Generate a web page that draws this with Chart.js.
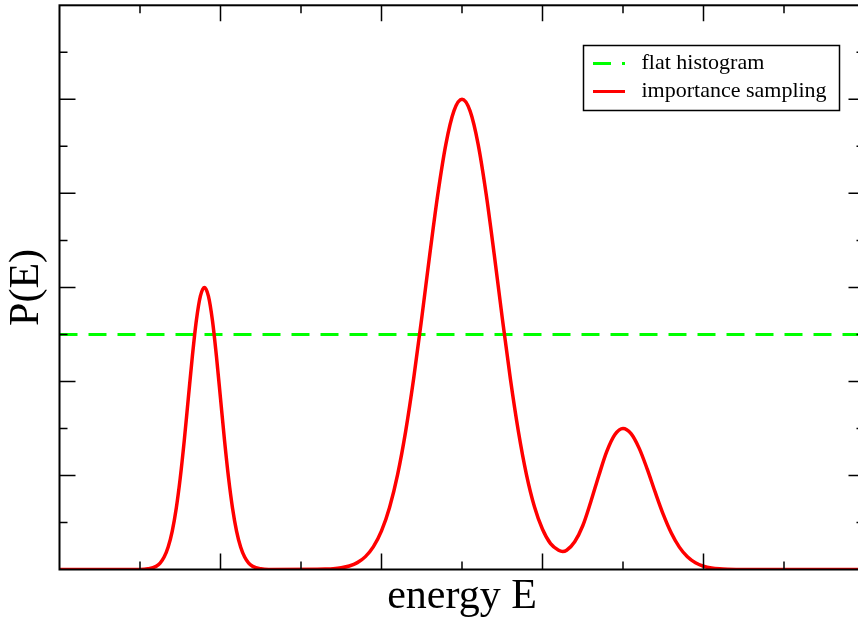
<!DOCTYPE html>
<html lang="en">
<head>
    <meta charset="UTF-8">
    <title>P(E): flat histogram vs importance sampling</title>
    <script src="https://cdn.jsdelivr.net/npm/chart.js"></script>
    <style>
        html, body { margin: 0; padding: 0; background: #fff; overflow: hidden; }
        .container { width: 870px; height: 624px; }
    </style>
</head>
<body>
    <div class="container">
        <canvas id="pChart" width="870" height="624"></canvas>
    </div>

    <script>
        // Energy grid of the importance sampling curve (x axis, 0..10)
        const energy = [
            0, 1.0, 1.1, 1.2, 1.25, 1.3, 1.35, 1.4, 1.45, 1.5, 1.55, 1.6, 1.65, 1.7, 1.75,
            1.8, 1.85, 1.9, 1.95, 2.0, 2.05, 2.1, 2.15, 2.2, 2.25, 2.3, 2.35, 2.4, 2.5, 2.6,
            3.2, 3.3, 3.4, 3.5, 3.6, 3.7, 3.8, 3.9, 4.0, 4.1, 4.2, 4.3, 4.4, 4.5, 4.6, 4.7,
            4.8, 4.9, 5.0, 5.1, 5.2, 5.3, 5.4, 5.5, 5.6, 5.7, 5.8, 5.9, 6.0, 6.1, 6.2, 6.25,
            6.3, 6.4, 6.5, 6.6, 6.7, 6.8, 6.9, 7.0, 7.1, 7.2, 7.3, 7.4, 7.5, 7.6, 7.7, 7.8,
            7.9, 8.0, 8.1, 8.2, 8.3, 8.5, 10
        ];
        // P(E)
        const pImportance = [
            0, 0, 0.007, 0.033, 0.068, 0.132, 0.239, 0.406, 0.649, 0.974, 1.373, 1.82, 2.264, 2.648, 2.908,
            3.0, 2.908, 2.648, 2.264, 1.82, 1.373, 0.974, 0.649, 0.406, 0.239, 0.132, 0.068, 0.033, 0.007, 0,
            0.002, 0.004, 0.008, 0.018, 0.037, 0.073, 0.137, 0.243, 0.41, 0.66, 1.009, 1.469, 2.033, 2.676, 3.352, 3.993,
            4.524, 4.877, 5.0, 4.877, 4.524, 3.993, 3.352, 2.676, 2.033, 1.47, 1.012, 0.667, 0.428, 0.275, 0.205, 0.192,
            0.205, 0.295, 0.465, 0.72, 1.0, 1.258, 1.435, 1.5, 1.445, 1.291, 1.07, 0.822, 0.586, 0.388, 0.238, 0.135,
            0.071, 0.035, 0.016, 0.007, 0.003, 0, 0
        ];
        // Flat histogram level
        const flatEnergy = [0, 10];
        const pFlat = [2.5, 2.5];

        const seriesLabels = ['flat histogram', 'importance sampling'];
        const serif = "'Liberation Serif', 'Times New Roman', serif";

        // Frame with inward ticks on all four sides (major long, minor short)
        const framePlugin = {
            id: 'frame',
            afterDatasetsDraw(chart) {
                const { ctx, chartArea: a, scales } = chart;
                ctx.save();
                ctx.strokeStyle = '#000';
                ctx.lineWidth = 1.5;
                ctx.beginPath();
                scales.x.ticks.forEach(t => {
                    if (t.value <= 0 || t.value >= 10) return;
                    const px = scales.x.getPixelForValue(t.value);
                    const len = t.value % 2 === 0 ? 16 : 8;
                    ctx.moveTo(px, a.bottom); ctx.lineTo(px, a.bottom - len);
                    ctx.moveTo(px, a.top); ctx.lineTo(px, a.top + len);
                });
                scales.y.ticks.forEach(t => {
                    if (t.value <= 0 || t.value >= 6) return;
                    const py = scales.y.getPixelForValue(t.value);
                    const len = Number.isInteger(t.value) ? 16 : 8;
                    ctx.moveTo(a.left, py); ctx.lineTo(a.left + len, py);
                    ctx.moveTo(a.right, py); ctx.lineTo(a.right - len, py);
                });
                ctx.stroke();
                ctx.lineWidth = 2;
                ctx.strokeRect(a.left, a.top, a.right - a.left, a.bottom - a.top);
                ctx.restore();
            }
        };

        // Boxed legend in the upper right of the plot
        const legendBoxPlugin = {
            id: 'legendBox',
            afterDraw(chart) {
                const ctx = chart.ctx;
                const box = { x: 583.5, y: 45.5, w: 256, h: 65 };
                ctx.save();
                ctx.fillStyle = '#fff';
                ctx.fillRect(box.x, box.y, box.w, box.h);
                ctx.strokeStyle = '#000';
                ctx.lineWidth = 1.5;
                ctx.strokeRect(box.x, box.y, box.w, box.h);

                const rows = [63.5, 91.5];
                [chart.data.datasets[0], chart.data.datasets[1]].forEach((ds, i) => {
                    ctx.strokeStyle = ds.borderColor;
                    ctx.lineWidth = 3;
                    ctx.setLineDash(ds.borderDash || []);
                    ctx.beginPath();
                    ctx.moveTo(593, rows[i]);
                    ctx.lineTo(625, rows[i]);
                    ctx.stroke();
                    ctx.setLineDash([]);
                    ctx.fillStyle = '#000';
                    ctx.font = '22px ' + serif;
                    ctx.textBaseline = 'alphabetic';
                    ctx.fillText(ds.label, 641.5, rows[i] + 5.5);
                });
                ctx.restore();
            }
        };

        const ctxP = document.getElementById('pChart').getContext('2d');

        const pChart = new Chart(ctxP, {
            type: 'line',
            data: {
                datasets: [{
                    label: seriesLabels[0],
                    data: flatEnergy.map((e, i) => ({ x: e, y: pFlat[i] })),
                    borderColor: '#00ff00',
                    borderWidth: 3,
                    borderDash: [18, 11],
                    pointRadius: 0,
                    fill: false,
                    order: 1
                }, {
                    label: seriesLabels[1],
                    data: energy.map((e, i) => ({ x: e, y: pImportance[i] })),
                    borderColor: '#ff0000',
                    borderWidth: 3.5,
                    pointRadius: 0,
                    cubicInterpolationMode: 'monotone',
                    fill: false,
                    order: 0
                }]
            },
            options: {
                responsive: false,
                animation: false,
                layout: { padding: { top: 5.3, right: 5.5, left: 0, bottom: 0 } },
                plugins: {
                    legend: { display: false },
                    tooltip: { enabled: false }
                },
                scales: {
                    x: {
                        type: 'linear',
                        min: 0,
                        max: 10,
                        ticks: { stepSize: 1, display: false },
                        grid: { display: false },
                        border: { display: false },
                        title: {
                            display: true,
                            text: 'energy E',
                            color: '#000',
                            font: { family: serif, size: 42 },
                            padding: { top: 0, bottom: 2 }
                        },
                        afterFit(scale) { scale.height = 54.5; }
                    },
                    y: {
                        min: 0,
                        max: 6,
                        ticks: { stepSize: 0.5, display: false },
                        grid: { display: false },
                        border: { display: false },
                        title: {
                            display: true,
                            text: 'P(E)',
                            color: '#000',
                            font: { family: serif, size: 42 },
                            padding: { top: 2, bottom: 0 }
                        },
                        afterFit(scale) { scale.width = 59.5; }
                    }
                }
            },
            plugins: [framePlugin, legendBoxPlugin]
        });
    </script>
</body>
</html>
